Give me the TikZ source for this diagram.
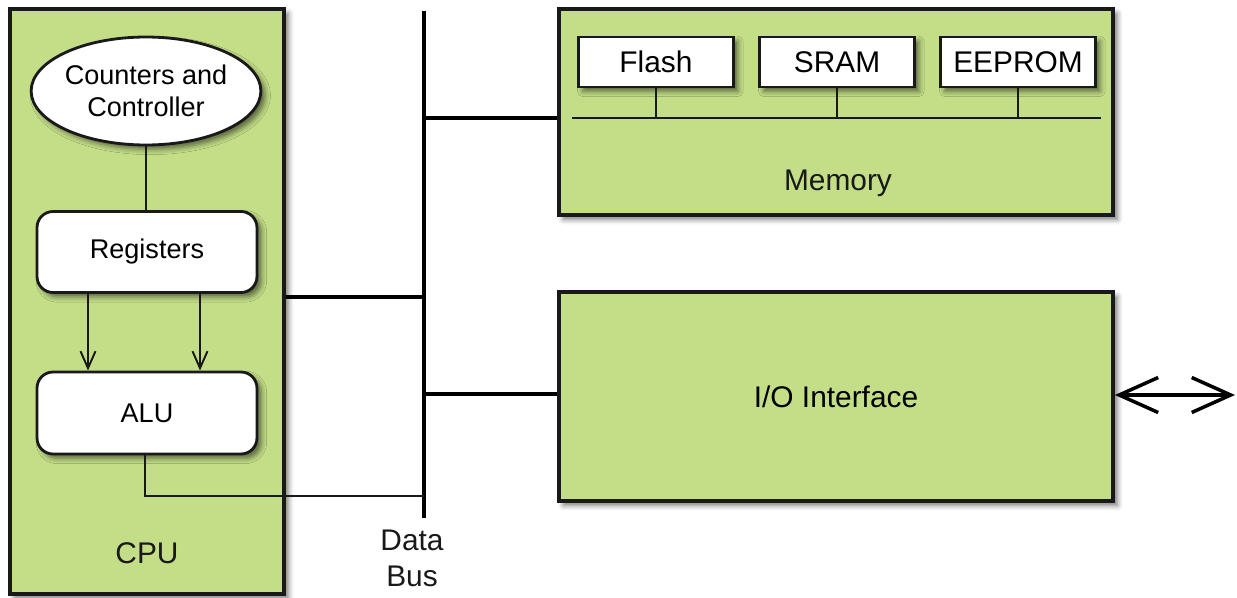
\documentclass[tikz,border=0pt]{standalone}
\usepackage{fontspec}
\setmainfont{Liberation Sans}
\usetikzlibrary{shapes.geometric,arrows.meta,shadows.blur}
\definecolor{boxgreen}{RGB}{196,222,136}
\definecolor{ink}{RGB}{25,25,25}
\begin{document}
\begin{tikzpicture}[x=0.02cm,y=-0.02cm,
  shad/.style={blur shadow={shadow xshift=2.5pt,shadow yshift=-2.5pt,shadow blur radius=3pt,shadow opacity=55}},
  outer/.style={draw=ink,line width=2.2pt,fill=boxgreen,shad,inner sep=0pt},
  inner/.style={draw=ink,line width=1.6pt,fill=white,shad,inner sep=0pt,font=\fontsize{15.4}{18.5}\selectfont,align=center},
  memcell/.style={draw=ink,line width=1.6pt,fill=white,shad,inner sep=0pt,minimum width=3.1cm,minimum height=1.0cm,font=\fontsize{17}{20}\selectfont},
  wire/.style={draw=ink,line width=1.1pt},
  buswire/.style={draw=black,line width=2pt},
  lbl/.style={font=\fontsize{17}{20.5}\selectfont,text=ink,align=center,inner sep=0pt}
]
\useasboundingbox (0,0) rectangle (1237,598);
% CPU
\node[outer,minimum width=5.48cm,minimum height=11.7cm] (cpu) at (147,301.5) {};
\node[inner,ellipse,minimum width=4.44cm,minimum height=2.16cm] (cc) at (146,91) {Counters and\\Controller};
\node[inner,rounded corners=0.32cm,minimum width=4.4cm,minimum height=1.62cm] (reg) at (147,252) {Registers};
\node[inner,rounded corners=0.32cm,minimum width=4.4cm,minimum height=1.64cm] (alu) at (147,413) {ALU};
\node[lbl] (cpul) at (147,553) {CPU};
% Memory
\node[outer,minimum width=11.08cm,minimum height=4.12cm] (mem) at (836,112) {};
\node[memcell] (flash) at (656,62) {Flash};
\node[memcell] (sram) at (837,62) {SRAM};
\node[memcell] (eeprom) at (1018,62) {EEPROM};
\node[lbl] (meml) at (838,183) {Memory};
\coordinate (ml) at (572,118);
\coordinate (mr) at (1101,118);
% I/O
\node[outer,minimum width=11.08cm,minimum height=4.18cm,font=\fontsize{17}{20}\selectfont] (io) at (836,396.5) {I/O Interface};
\coordinate (ext) at (1235,395);
% Data bus
\coordinate (bt) at (424,11);
\coordinate (bb) at (424,518);
\coordinate (j1) at (424,297);
\coordinate (j2) at (424,118);
\coordinate (j3) at (424,394);
\coordinate (j4) at (424,496);
\node[lbl,anchor=north] (busl) at (412,530) {Data\\Bus};
% connectors
\draw[buswire] (bt) -- (bb);
\draw[buswire] (cpu.east|-j1) -- (j1);
\draw[buswire] (mem.west|-j2) -- (j2);
\draw[buswire] (io.west|-j3) -- (j3);
\draw[wire] (cc.south) -- (reg.north-|cc.south);
\draw[wire,-{Straight Barb[length=0.34cm,width=0.3cm]}] (reg.south-|88,0) -- (alu.north-|88,0);
\draw[wire,-{Straight Barb[length=0.34cm,width=0.3cm]}] (reg.south-|200,0) -- (alu.north-|200,0);
\draw[wire] (alu.south-|145,0) -- (145,496) -- (j4);
\draw[wire] (ml) -- (mr);
\draw[wire] (flash.south) -- (flash.south|-ml);
\draw[wire] (sram.south) -- (sram.south|-ml);
\draw[wire] (eeprom.south) -- (eeprom.south|-ml);
\draw[buswire,{Straight Barb[length=0.78cm,width=0.7cm]}-{Straight Barb[length=0.78cm,width=0.7cm]}] (io.east|-ext) -- (ext);
\end{tikzpicture}
\end{document}
